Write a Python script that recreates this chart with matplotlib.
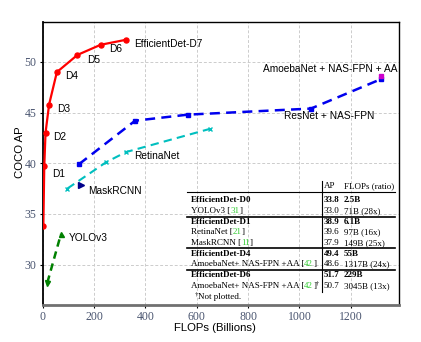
import matplotlib
matplotlib.use("Agg")
import matplotlib.pyplot as plt
from matplotlib.lines import Line2D

# ---------------- data ----------------
effdet_flops = [2.5, 6.1, 11, 24.9, 55.2, 135.4, 225.8, 325.6]
effdet_ap = [33.8, 39.7, 43.0, 45.8, 49.0, 50.7, 51.7, 52.2]
effdet_labels = ["", "D1", "D2", "D3", "D4", "D5", "D6", "EfficientDet-D7"]

yolo_flops = [18, 71]
yolo_ap = [28.2, 33.0]

maskrcnn_flops = [149]
maskrcnn_ap = [37.9]

retina_flops = [96, 247, 324, 652]
retina_ap = [37.5, 40.1, 41.1, 43.4]

nasfpn_flops = [141, 360, 565, 1045, 1317]
nasfpn_ap = [39.9, 44.2, 44.8, 45.4, 48.3]

amoeba_flops = [1317]
amoeba_ap = [48.6]

x_ticks = [0, 200, 400, 600, 800, 1000, 1200]
y_ticks = [30, 35, 40, 45, 50]

# table contents
tbl_header = ["AP", "FLOPs (ratio)"]
tbl_names = ["EfficientDet-D0", "YOLOv3", "EfficientDet-D1", "RetinaNet", "MaskRCNN",
             "EfficientDet-D4", "AmoebaNet+ NAS-FPN +AA", "EfficientDet-D6",
             "AmoebaNet+ NAS-FPN +AA"]
tbl_refs = ["", "31", "", "21", "11", "", "42", "", "42"]
tbl_dagger = [False, False, False, False, False, False, False, False, True]
tbl_ap = ["33.8", "33.0", "38.9", "39.6", "37.9", "49.4", "48.6", "51.7", "50.7"]
tbl_flops = ["2.5B", "71B (28x)", "6.1B", "97B (16x)", "149B (25x)", "55B",
             "1317B (24x)", "229B", "3045B (13x)"]
tbl_bold = [True, False, True, False, False, True, False, True, False]
tbl_note = "Not plotted."

# ---------------- figure ----------------
W, H = 421, 342
fig = plt.figure(figsize=(W / 100, H / 100), dpi=100)
ax = fig.add_axes([42.7 / W, 1 - 304.5 / H, (399 - 42.7) / W, (304.5 - 22) / H])

ax.set_xlim(0, 1388)
ax.set_ylim(26.05, 53.95)

ax.grid(True, color="#cccccc", linestyle=(0, (3, 2)), linewidth=0.7)
ax.set_axisbelow(True)

ax.plot(effdet_flops, effdet_ap, color="#ff0000", marker="o", markersize=3.6,
        linewidth=1.6, zorder=5)
ax.plot(nasfpn_flops, nasfpn_ap, color="#0000ee", marker="s", markersize=3.4,
        linewidth=1.8, linestyle=(0, (4, 2.5)), zorder=4)
ax.plot(amoeba_flops, amoeba_ap, color="#cc00cc", marker="s", markersize=3.4,
        linestyle="none", zorder=5)
ax.plot(retina_flops, retina_ap, color="#00bfbf", marker="x", markersize=3.2,
        linewidth=1.5, linestyle=(0, (4, 2.5)), zorder=4)
ax.plot(maskrcnn_flops, maskrcnn_ap, color="#00008b", marker=">", markersize=4,
        linestyle="none", zorder=5)
ax.plot(yolo_flops, yolo_ap, color="#008000", linewidth=1.8,
        linestyle=(0, (3, 2)), zorder=4)
ax.plot(yolo_flops[1:], yolo_ap[1:], color="#008000", marker="^", markersize=3.6,
        linestyle="none", zorder=5)
ax.plot(yolo_flops[:1], yolo_ap[:1], color="#008000", marker="v", markersize=3.6,
        linestyle="none", zorder=5)

lab_font = dict(family="Liberation Sans", fontsize=7.3, va="center", ha="left")
effdet_label_pos = [None, (35, 38.98), (41, 42.6), (57, 45.37), (87, 48.59),
                    (174, 50.2), (260, 51.25), (356, 51.8)]
for lab, pos in zip(effdet_labels, effdet_label_pos):
    if lab:
        ax.text(pos[0], pos[1], lab, **lab_font)
ax.text(356, 40.73, "RetinaNet", **lab_font)
ax.text(178, 37.3, "MaskRCNN", **lab_font)
ax.text(101, 32.57, "YOLOv3", **lab_font)
ax.text(859, 49.3, "AmoebaNet + NAS-FPN + AA", **lab_font)
ax.text(941, 44.7, "ResNet + NAS-FPN", **lab_font)

ax.set_xticks(x_ticks)
ax.set_yticks(y_ticks)
ax.tick_params(axis="both", length=2.5, width=0.8, color="black", pad=2,
               labelsize=8.5, labelcolor="#4a5570")
for lbl in ax.get_xticklabels() + ax.get_yticklabels():
    lbl.set_family("Liberation Serif")

for s in ["top", "right", "left"]:
    ax.spines[s].set_color("black")
    ax.spines[s].set_linewidth(1.0)
ax.spines["left"].set_linewidth(1.3)
ax.spines["bottom"].set_color("#707070")
ax.spines["bottom"].set_linewidth(2.0)

ax.set_xlabel("FLOPs (Billions)", family="Liberation Sans", fontsize=8.2)
ax.set_ylabel("COCO AP", family="Liberation Sans", fontsize=8.2)
ax.xaxis.set_label_coords(0.484, -0.064)
ax.yaxis.set_label_coords(-0.049, 0.54)

# ---------------- table ----------------
renderer = fig.canvas.get_renderer()
TFS = 6.5


def ftext(x, y, s, **kw):
    kw.setdefault("family", "Liberation Serif")
    kw.setdefault("fontsize", TFS)
    kw.setdefault("va", "center")
    kw.setdefault("ha", "left")
    return fig.text(x / W, 1 - y / H, s, **kw)


def pieces(x, y, parts):
    for s, kw in parts:
        dy = kw.pop("dy", 0)
        t = ftext(x, y + dy, s, **kw)
        x += t.get_window_extent(renderer).width


def hline(y, lw):
    fig.add_artist(Line2D([187.3 / W, 395 / W], [1 - y / H, 1 - y / H],
                          color="black", linewidth=lw))


row_y = [200, 211, 222, 232.3, 242.7, 253.7, 264.3, 275.3, 286]
ftext(324, 186, tbl_header[0])
ftext(343.5, 186, tbl_header[1])
hline(192.3, 0.8)
hline(216.7, 1.2)
hline(248.3, 1.2)
hline(270, 1.2)
fig.add_artist(Line2D([321.7 / W, 321.7 / W], [1 - 180.5 / H, 1 - 291.5 / H],
                      color="black", linewidth=0.8))

for i in range(len(tbl_names)):
    y = row_y[i]
    wt = "bold" if tbl_bold[i] else "normal"
    parts = []
    if tbl_refs[i]:
        parts.append((tbl_names[i] + " [", dict(weight=wt)))
        parts.append((tbl_refs[i], dict(weight=wt, color="#33cc33")))
        parts.append(("]", dict(weight=wt)))
        if tbl_dagger[i]:
            parts.append(("†", dict(fontsize=4.5, dy=-2.5)))
    else:
        parts.append((tbl_names[i], dict(weight=wt)))
    pieces(191, y, parts)
    ftext(323.5, y, tbl_ap[i], weight=wt)
    ftext(343.5, y, tbl_flops[i], weight=wt)

pieces(195, 296.7, [("†", dict(fontsize=4.5, dy=-2.5)), (tbl_note, dict())])

fig.savefig("out.png", dpi=100)
